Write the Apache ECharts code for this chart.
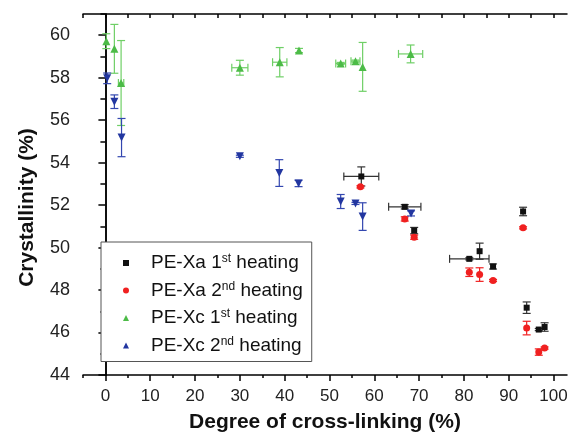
<!DOCTYPE html>
<html>
<head>
<meta charset="utf-8">
<script src="https://cdn.jsdelivr.net/npm/echarts@6/dist/echarts.min.js"></script>
<style>
  html, body { margin: 0; padding: 0; background: #fff; }
  #chart { width: 570px; height: 435px; }
</style>
</head>
<body>
<div id="chart"></div>
<script>
// [x, y, xErr, yErr]
const xa1 = [
  [57.1, 53.35, 3.9, 0.45],
  [66.8, 51.92, 3.6, 0.1],
  [68.9, 50.80, 0, 0.15],
  [81.2, 49.47, 4.4, 0.05],
  [83.5, 49.83, 0, 0.38],
  [86.5, 49.11, 0, 0.12],
  [93.2, 51.70, 0, 0.2],
  [94.0, 47.17, 0, 0.27],
  [96.7, 46.14, 0, 0.05],
  [98.0, 46.26, 0, 0.2]
]
const xa2 = [
  [56.9, 52.86, 0, 0.05],
  [66.8, 51.35, 0, 0.1],
  [68.9, 50.49, 0, 0.1],
  [81.2, 48.84, 0, 0.2],
  [83.5, 48.73, 0, 0.32],
  [86.5, 48.45, 0, 0.05],
  [93.2, 50.93, 0, 0.05],
  [94.0, 46.21, 0, 0.32],
  [96.7, 45.08, 0, 0.15],
  [98.0, 45.27, 0, 0.05]
]
const xc1 = [
  [0.2, 59.72, 0, 0.35],
  [2.0, 59.36, 0, 1.15],
  [3.5, 57.75, 0.6, 2.0],
  [30.0, 58.47, 1.8, 0.35],
  [38.9, 58.73, 1.6, 0.69],
  [43.2, 59.28, 0, 0.1],
  [52.5, 58.67, 1.1, 0.05],
  [55.8, 58.78, 1.0, 0.05],
  [57.4, 58.51, 0, 1.15],
  [68.1, 59.12, 2.7, 0.42]
]
const xc2 = [
  [0.4, 57.97, 0, 0.25],
  [2.0, 56.87, 0, 0.32],
  [3.6, 55.18, 0, 0.9],
  [30.0, 54.30, 0, 0.05],
  [38.8, 53.51, 0, 0.63],
  [43.1, 53.02, 0, 0.15],
  [52.5, 52.17, 0, 0.33],
  [55.8, 52.08, 0, 0.05],
  [57.4, 51.46, 0, 0.65],
  [68.2, 51.61, 0, 0.12]
]
const xLabels = [0, 10, 20, 30, 40, 50, 60, 70, 80, 90, 100]
const xMinor = [-5, 5, 15, 25, 35, 45, 55, 65, 75, 85, 95]
const yLabels = [44, 46, 48, 50, 52, 54, 56, 58, 60]
const yMinor = [45, 47, 49, 51, 53, 55, 57, 59, 61]
const names = ['PE-Xa 1st heating', 'PE-Xa 2nd heating', 'PE-Xc 1st heating', 'PE-Xc 2nd heating']

const font = 'Liberation Sans, Arial, sans-serif'

// 误差棒
function errSeries(data, color) {
  return {
    type: 'custom',
    xAxisIndex: 0,
    yAxisIndex: 0,
    silent: true,
    z: 1,
    data: data,
    renderItem: function (params, api) {
      const x = api.value(0), y = api.value(1), ex = api.value(2), ey = api.value(3)
      const c = api.coord([x, y])
      const kids = []
      const style = { stroke: color, lineWidth: 1.2 }
      const cap = 4
      if (ey > 0) {
        const t = api.coord([x, y + ey]), b = api.coord([x, y - ey])
        kids.push({ type: 'line', shape: { x1: c[0], y1: t[1], x2: c[0], y2: b[1] }, style: style })
        kids.push({ type: 'line', shape: { x1: c[0] - cap, y1: t[1], x2: c[0] + cap, y2: t[1] }, style: style })
        kids.push({ type: 'line', shape: { x1: c[0] - cap, y1: b[1], x2: c[0] + cap, y2: b[1] }, style: style })
      }
      if (ex > 0) {
        const l = api.coord([x - ex, y]), r = api.coord([x + ex, y])
        kids.push({ type: 'line', shape: { x1: l[0], y1: c[1], x2: r[0], y2: c[1] }, style: style })
        kids.push({ type: 'line', shape: { x1: l[0], y1: c[1] - cap, x2: l[0], y2: c[1] + cap }, style: style })
        kids.push({ type: 'line', shape: { x1: r[0], y1: c[1] - cap, x2: r[0], y2: c[1] + cap }, style: style })
      }
      return { type: 'group', children: kids }
    }
  }
}

function pts(name, data, color, symbol, size, rotate) {
  return {
    name: name,
    type: 'scatter',
    xAxisIndex: 0,
    yAxisIndex: 0,
    z: 3,
    symbol: symbol,
    symbolSize: size,
    symbolRotate: rotate || 0,
    itemStyle: { color: color, opacity: 1 },
    data: data.map(d => [d[0], d[1]])
  }
}

const black = '#111111', red = '#f02020', green = '#4cbb47', blue = '#2236a0'

const axisLine = { show: true, lineStyle: { color: '#000', width: 1.5 } }
const tickLine = { color: '#000', width: 1.5 }
const titleStyle = { fontFamily: font, fontSize: 21, fontWeight: 'bold', color: '#111' }

const option = {
  animation: false,
  grid: { left: 83, right: 3, top: 14, bottom: 60, containLabel: false, outerBoundsMode: 'none' },
  legend: {
    left: 101,
    top: 242,
    orient: 'vertical',
    padding: [11, 9, 5, 22],
    itemGap: 6.5,
    itemWidth: 6,
    itemHeight: 6,
    backgroundColor: '#fff',
    borderColor: '#555',
    borderWidth: 1,
    data: names,
    formatter: function (n) {
      const m = n.match(/^(.*? \d)(st|nd)( heating)$/)
      return '{sp|}{a|' + m[1] + '}{s|' + m[2] + '}{a|' + m[3] + '}'
    },
    textStyle: {
      rich: {
        sp: { width: 17 },
        a: { fontFamily: font, fontSize: 19, color: '#111', lineHeight: 20 },
        s: { fontFamily: font, fontSize: 12, color: '#111', lineHeight: 20, verticalAlign: 'top', padding: [0, 0, 9, 0] }
      }
    }
  },
  xAxis: [
    {
      type: 'value', min: -5, max: 103, position: 'bottom',
      name: 'Degree of cross-linking (%)', nameLocation: 'middle', nameGap: 37,
      nameTextStyle: titleStyle,
      axisLine: axisLine,
      splitLine: { show: false },
      axisTick: { show: true, length: 6, customValues: xLabels, lineStyle: tickLine },
      axisLabel: { customValues: xLabels, fontFamily: font, fontSize: 17, color: '#222', margin: 13 }
    },
    {
      type: 'value', min: -5, max: 103, position: 'bottom',
      axisLine: { show: false },
      splitLine: { show: false },
      axisTick: { show: true, length: 3, customValues: xMinor, lineStyle: tickLine },
      axisLabel: { show: false }
    },
    {
      type: 'value', min: -5, max: 103, position: 'top',
      axisLine: axisLine,
      splitLine: { show: false },
      axisTick: { show: true, inside: true, length: 4, customValues: xLabels.concat(xMinor), lineStyle: tickLine },
      axisLabel: { show: false }
    }
  ],
  yAxis: [
    {
      type: 'value', min: 44, max: 61, position: 'left',
      name: 'Crystallinity (%)', nameLocation: 'middle', nameGap: 45,
      nameTextStyle: Object.assign({ padding: [0, 26, 0, 0] }, titleStyle),
      axisLine: axisLine,
      splitLine: { show: false },
      axisTick: { show: true, length: 7, customValues: yLabels, lineStyle: tickLine },
      axisLabel: { customValues: yLabels, fontFamily: font, fontSize: 18, color: '#222', margin: 13 }
    },
    {
      type: 'value', min: 44, max: 61, position: 'left',
      axisLine: { show: false },
      splitLine: { show: false },
      axisTick: { show: true, length: 4, customValues: yMinor, lineStyle: tickLine },
      axisLabel: { show: false }
    },
    {
      type: 'value', min: 44, max: 61, position: 'right',
      axisLine: axisLine,
      splitLine: { show: false },
      axisTick: { show: true, inside: true, length: 5, customValues: yLabels.concat(yMinor), lineStyle: tickLine },
      axisLabel: { show: false }
    }
  ],
  series: [
    errSeries(xa1, '#333'),
    errSeries(xa2, red),
    errSeries(xc1, '#6fcf66'),
    errSeries(xc2, '#3347b0'),
    pts(names[0], xa1, black, 'rect', 6),
    pts(names[1], xa2, red, 'circle', 7),
    pts(names[2], xc1, green, 'triangle', 8),
    pts(names[3], xc2, blue, 'triangle', 8, 180)
  ]
}

const chart = echarts.init(document.getElementById('chart'))
chart.setOption(option)
</script>
</body>
</html>
